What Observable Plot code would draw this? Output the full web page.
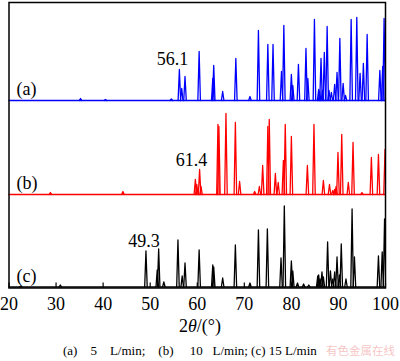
<!DOCTYPE html>
<html><head><meta charset="utf-8">
<script src="https://cdn.jsdelivr.net/npm/d3@7"></script>
<script src="https://cdn.jsdelivr.net/npm/@observablehq/plot@0.6"></script>
<style>
body{margin:0;background:#fff;}
#wrap{position:relative;width:400px;height:361px;overflow:hidden;font-family:"Liberation Serif","Times New Roman",serif;}
#wrap svg{display:block;}
#wrap svg text{font-family:"Liberation Serif","Times New Roman",serif !important;}
#xlabel{position:absolute;left:0;width:400px;top:316px;text-align:center;font-size:18px;line-height:20px;color:#000;}
#caption{position:absolute;left:63px;top:343px;font-size:13px;line-height:15px;white-space:pre;color:#000;}
#wm{position:absolute;left:326px;top:343px;font-family:"Noto Sans CJK SC";font-size:11.5px;line-height:15px;color:rgba(235,120,120,0.45);white-space:pre;}
</style></head><body>
<div id="wrap"></div>
<script>
// ---- data (2θ in degrees, intensity in a.u.) ----
const xTicks = [20, 30, 40, 50, 60, 70, 80, 90, 100];

const posA = [35.2, 40.5, 54.5, 56.2, 56.7, 57.4, 60.4, 63.3, 63.5, 65.4, 68.2, 71.2, 73.0, 75.0, 76.1, 77.9, 78.4, 80.0, 80.3, 81.5, 83.1, 83.5, 84.9, 85.8, 86.0, 86.3, 86.6, 87.0, 87.6, 88.0, 88.5, 89.2, 89.7, 90.3, 91.0, 91.5, 92.7, 93.9, 94.6, 95.3, 96.1, 98.8, 99.4, 99.7];
const intA = [2, 1, 1.5, 31, 12, 24, 49, 22, 35, 9, 42, 4, 70, 56, 56, 29, 75, 26, 15, 36, 52, 22, 81, 11, 9, 42, 10, 48, 74, 10, 8, 16, 28, 62, 17, 5, 81, 83, 27, 37, 66, 30, 34, 82];

const posB = [28.8, 44.2, 59.6, 59.9, 60.5, 60.8, 64.4, 64.6, 66.1, 68.1, 69.0, 72.2, 73.2, 73.9, 75.0, 75.3, 76.6, 77.2, 78.3, 78.7, 80.0, 83.4, 84.8, 86.8, 88.1, 88.8, 89.2, 89.5, 89.9, 90.7, 92.1, 93.1, 95.0, 97.0, 98.5, 99.9];
const intB = [2, 3, 15, 10, 25, 8, 70, 68, 81, 72, 13, 3, 8, 29, 68, 75, 21, 12, 34, 70, 58, 29, 70, 14, 10, 4, 5, 8, 42, 60, 12, 52, 2, 37, 40, 45];

const posC = [22.5, 30.9, 49.1, 51.5, 51.8, 52.9, 55.9, 56.8, 57.4, 60.4, 63.3, 63.5, 65.4, 68.1, 71.2, 73.0, 74.9, 77.8, 78.5, 80.0, 80.3, 81.3, 82.6, 83.7, 85.6, 85.8, 86.1, 86.5, 86.8, 87.7, 88.3, 88.8, 89.2, 89.7, 90.2, 90.6, 91.6, 92.9, 93.4, 98.5, 99.3, 99.8];
const intC = [1, 2, 36, 17, 38, 5, 47, 11, 24, 37, 22, 20, 9, 42, 4, 57, 58, 29, 81, 26, 16, 4, 3, 2, 11, 12, 8, 15, 10, 45, 16, 8, 15, 30, 12, 43, 8, 78, 30, 31, 35, 68];

const seriesLabels = ["(a)", "(b)", "(c)"];
const peakLabels = ["56.1", "61.4", "49.3"];

// ---- layout ----
const offA = 187.5, offB = 93.5, offC = 1;
const halfW = 0.27;

function triangles(pos, ints, off, key) {
  const out = [];
  pos.forEach((p, i) => {
    const id = key + i;
    out.push({x: p - halfW, y: off, id});
    out.push({x: p, y: off + ints[i], id});
    out.push({x: p + halfW, y: off, id});
  });
  return out;
}
const tA = triangles(posA, intA, offA, "a");
const tB = triangles(posB, intB, offB, "b");
const tC = triangles(posC, intC, offC, "c");

const font = "Liberation Serif";
const lw = 1.3;

const chart = Plot.plot({
  width: 400,
  height: 313,
  marginLeft: 8.5,
  marginRight: 15,
  marginTop: 2,
  marginBottom: 25.5,
  x: {domain: [20, 100]},
  y: {domain: [0, 285.5], axis: null},
  style: {fontFamily: font, fontSize: "18px", background: "#fff", color: "#000"},
  marks: [
    Plot.ruleY([offA], {x1: 20, x2: 100, stroke: "#0000ff", strokeWidth: lw}),
    Plot.ruleY([offB], {x1: 20, x2: 100, stroke: "#ff0000", strokeWidth: lw}),
    Plot.ruleY([offC], {x1: 20, x2: 100, stroke: "#000", strokeWidth: lw}),
    Plot.line(tA, {x: "x", y: "y", z: "id", stroke: "#0000ff", strokeWidth: lw, clip: true}),
    Plot.line(tB, {x: "x", y: "y", z: "id", stroke: "#ff0000", strokeWidth: lw, clip: true}),
    Plot.line(tC, {x: "x", y: "y", z: "id", stroke: "#000", strokeWidth: lw, clip: true}),
    Plot.ruleX(xTicks, {x: d => d, y1: 0, y2: 5, stroke: "#000", strokeWidth: 1.2}),
    Plot.axisX(xTicks, {tickSize: 0, tickPadding: 9, fontSize: 18, label: null}),
    Plot.text([
      {x: 21.6, y: 198.5, t: seriesLabels[0]},
      {x: 21.6, y: 104.5, t: seriesLabels[1]},
      {x: 21.6, y: 11.5, t: seriesLabels[2]}
    ], {x: "x", y: "y", text: "t", textAnchor: "start", fontSize: 18, fill: "#000"}),
    Plot.text([
      {x: 54.74, y: 229, t: peakLabels[0]},
      {x: 58.78, y: 127.5, t: peakLabels[1]},
      {x: 48.69, y: 46.5, t: peakLabels[2]}
    ], {x: "x", y: "y", text: "t", fontSize: 18, fill: "#000"}),
    Plot.frame({stroke: "#000", strokeWidth: 1.5})
  ]
});

const wrap = document.getElementById("wrap");
wrap.appendChild(chart);
const xl = document.createElement("div");
xl.id = "xlabel";
xl.innerHTML = "2<i>θ</i>/(°)";
wrap.appendChild(xl);
const cap = document.createElement("div");
cap.id = "caption";
cap.textContent = "(a)    5    L/min;    (b)     10   L/min; (c) 15 L/min";
wrap.appendChild(cap);
const wm = document.createElement("div");
wm.id = "wm";
wm.textContent = "有色金属在线";
wrap.appendChild(wm);
</script>
</body></html>
